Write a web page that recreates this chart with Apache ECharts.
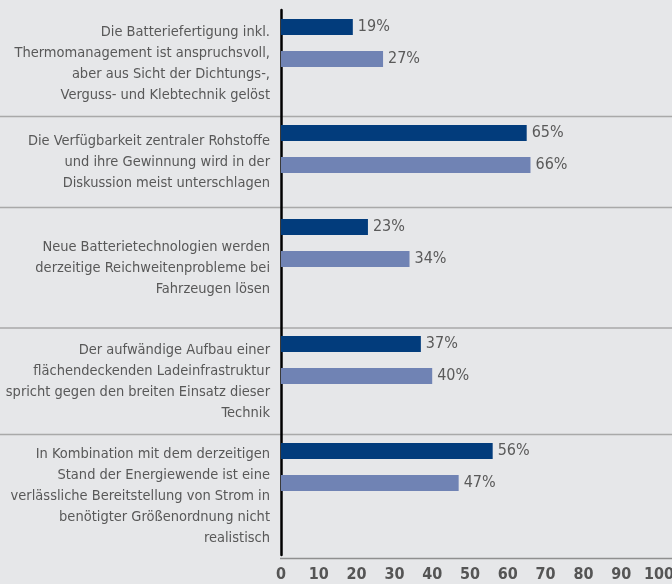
<!DOCTYPE html>
<html>
<head>
<meta charset="utf-8">
<script src="https://cdn.jsdelivr.net/npm/echarts@6/dist/echarts.min.js"></script>
<style>
  html, body { margin: 0; padding: 0; background: #e6e7e9; }
  #chart { width: 672px; height: 584px; }
</style>
</head>
<body>
<div id="chart"></div>
<script>
// Daten
const categories = [
  'Die Batteriefertigung inkl.\nThermomanagement ist anspruchsvoll,\naber aus Sicht der Dichtungs-,\nVerguss- und Klebtechnik gelöst',
  'Die Verfügbarkeit zentraler Rohstoffe\nund ihre Gewinnung wird in der\nDiskussion meist unterschlagen',
  'Neue Batterietechnologien werden\nderzeitige Reichweitenprobleme bei\nFahrzeugen lösen',
  'Der aufwändige Aufbau einer\nflächendeckenden Ladeinfrastruktur\nspricht gegen den breiten Einsatz dieser\nTechnik',
  'In Kombination mit dem derzeitigen\nStand der Energiewende ist eine\nverlässliche Bereitstellung von Strom in\nbenötigter Größenordnung nicht\nrealistisch'
];
const valuesDark = [19, 65, 23, 37, 56];
const valuesLight = [27, 66, 34, 40, 47];
const xTicks = [0, 10, 20, 30, 40, 50, 60, 70, 80, 90, 100];

// Layout (Pixel)
const bandEdges = [10, 116.5, 207.5, 328, 434.5, 558.5];
const barTops = [11, 117, 211, 328, 435];
const barAreaH = 64;
const FONT = '"Liberation Sans Narrow", "DejaVu Sans Condensed", "Open Sans", sans-serif';

const grids = [], xAxes = [], yAxes = [], series = [];

categories.forEach((cat, i) => {
  // Beschriftung soll in der Mitte des ganzen Bandes stehen, Balken oben
  const bandCenter = (bandEdges[i] + bandEdges[i + 1]) / 2;
  const spacer = Math.max(1, 2 * (bandCenter - (barTops[i] + barAreaH / 2)));
  grids.push({ left: 281, right: 13, top: barTops[i], height: barAreaH, containLabel: false, outerBoundsMode: 'none' });
  xAxes.push({ gridIndex: i, type: 'value', min: 0, max: 100, show: false });
  yAxes.push({
    gridIndex: i,
    type: 'category',
    data: [cat],
    axisLine: { show: false },
    axisTick: { show: false },
    axisLabel: {
      margin: 11,
      fontSize: 14.5,
      lineHeight: 21,
      color: '#585858',
      fontFamily: FONT,
      align: 'right',
      formatter: v => '{s| }\n' + v,
      rich: { s: { fontSize: 1, height: spacer, lineHeight: spacer } }
    }
  });
  const lbl = {
    show: true, position: 'right', distance: 5, formatter: '{c}%',
    fontSize: 16, color: '#5a5a5a', fontFamily: FONT
  };
  series.push({
    type: 'bar', xAxisIndex: i, yAxisIndex: i, data: [valuesDark[i]],
    barWidth: 16, barGap: '100%', itemStyle: { color: '#023c7c' }, label: lbl
  });
  series.push({
    type: 'bar', xAxisIndex: i, yAxisIndex: i, data: [valuesLight[i]],
    barWidth: 16, barGap: '100%', itemStyle: { color: '#7083b4' }, label: lbl
  });
});

// Rahmen: Achse unten + schwarze Linie links
const f = categories.length;
grids.push({ left: 281, right: 13, top: 10, bottom: 29, containLabel: false, outerBoundsMode: 'none' });
xAxes.push({
  gridIndex: f, type: 'value', min: xTicks[0], max: xTicks[xTicks.length - 1], interval: 10,
  axisLine: { show: false }, axisTick: { show: false }, splitLine: { show: false },
  axisLabel: { margin: 12, fontSize: 16, fontWeight: 'bold', color: '#555', fontFamily: FONT }
});
yAxes.push({
  gridIndex: f, type: 'value', min: 0, max: 1, offset: 1.5,
  axisLine: { show: true, lineStyle: { color: '#000', width: 2.5 } },
  axisTick: { show: false }, axisLabel: { show: false }, splitLine: { show: false }
});

// Trennlinien
const graphic = bandEdges.slice(1, -1).map(y => ({
  type: 'line', shape: { x1: 0, y1: y, x2: 672, y2: y },
  style: { stroke: '#a9a9a9', lineWidth: 1.5 }, z: 0
}));
graphic.push({
  type: 'line', shape: { x1: 280, y1: 558.5, x2: 672, y2: 558.5 },
  style: { stroke: '#8f8f8f', lineWidth: 1.5 }, z: 0
});

const myChart = echarts.init(document.getElementById('chart'));
myChart.setOption({
  backgroundColor: '#e6e7e9',
  animation: false,
  textStyle: { fontFamily: FONT },
  grid: grids,
  xAxis: xAxes,
  yAxis: yAxes,
  series: series,
  graphic: graphic
});
</script>
</body>
</html>
